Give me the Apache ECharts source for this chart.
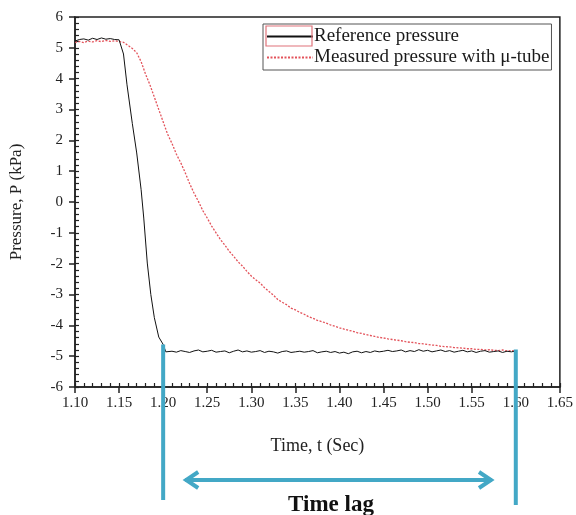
<!DOCTYPE html>
<html>
<head>
<meta charset="utf-8">
<script src="https://cdn.jsdelivr.net/npm/echarts@6/dist/echarts.min.js"></script>
<style>
    html, body { margin: 0; padding: 0; background: #fff; }
    #chart { width: 576px; height: 515px; }
</style>
</head>
<body>
<div id="chart"></div>
<script>
    // reference pressure (black line) - time in sec, pressure in kPa
    var refTime = [
        1.100, 1.105, 1.110, 1.115, 1.120, 1.125, 1.130, 1.135, 1.140, 1.145, 1.150,
        1.155, 1.159, 1.165, 1.170, 1.175, 1.178, 1.182, 1.186, 1.190, 1.195, 1.200, 1.203,
        1.205, 1.210, 1.215, 1.220, 1.225, 1.230, 1.235, 1.240, 1.245, 1.250,
        1.255, 1.260, 1.265, 1.270, 1.275, 1.280, 1.285, 1.290, 1.295, 1.300,
        1.305, 1.310, 1.315, 1.320, 1.325, 1.330, 1.335, 1.340, 1.345, 1.350,
        1.355, 1.360, 1.365, 1.370, 1.375, 1.380, 1.385, 1.390, 1.395, 1.400,
        1.405, 1.410, 1.415, 1.420, 1.425, 1.430, 1.435, 1.440, 1.445, 1.450,
        1.455, 1.460, 1.465, 1.470, 1.475, 1.480, 1.485, 1.490, 1.495, 1.500,
        1.505, 1.510, 1.515, 1.520, 1.525, 1.530, 1.535, 1.540, 1.545, 1.550,
        1.555, 1.560, 1.565, 1.570, 1.575, 1.580, 1.585, 1.590, 1.595, 1.600
    ];
    var refPressure = [
        5.22, 5.27, 5.29, 5.25, 5.31, 5.27, 5.32, 5.28, 5.30, 5.27, 5.26,
        4.80, 3.80, 2.55, 1.59, 0.40, -0.52, -1.98, -3.00, -3.75, -4.38, -4.62, -4.86,
        -4.86, -4.84, -4.87, -4.82, -4.85, -4.88, -4.83, -4.80, -4.86, -4.84,
        -4.81, -4.87, -4.85, -4.83, -4.89, -4.84, -4.80, -4.86, -4.83, -4.87,
        -4.85, -4.82, -4.88, -4.84, -4.86, -4.90, -4.85, -4.83, -4.88, -4.86,
        -4.84, -4.87, -4.85, -4.82, -4.89, -4.86, -4.84, -4.88, -4.85, -4.90,
        -4.87, -4.92, -4.86, -4.84, -4.89, -4.85, -4.88, -4.83, -4.86, -4.84,
        -4.81, -4.85, -4.83, -4.80, -4.86, -4.82, -4.85, -4.79, -4.84, -4.81,
        -4.86, -4.83, -4.80, -4.85, -4.82, -4.87, -4.84, -4.81, -4.86, -4.83,
        -4.88, -4.84, -4.82, -4.87, -4.85, -4.83, -4.88, -4.84, -4.86, -4.83
    ];

    // measured pressure with micro tube (red dotted)
    var measTime = [
        1.100, 1.105, 1.110, 1.115, 1.120, 1.125, 1.130, 1.135, 1.140, 1.145,
        1.150, 1.155, 1.160, 1.165, 1.170, 1.175, 1.180, 1.185, 1.190, 1.195,
        1.200, 1.205, 1.210, 1.215, 1.220, 1.225, 1.230, 1.235, 1.240, 1.245,
        1.250, 1.255, 1.260, 1.265, 1.270, 1.275, 1.280, 1.285, 1.290, 1.295,
        1.300, 1.305, 1.310, 1.315, 1.320, 1.325, 1.330, 1.335, 1.340, 1.345,
        1.350, 1.355, 1.360, 1.365, 1.370, 1.375, 1.380, 1.385, 1.390, 1.395,
        1.400, 1.405, 1.410, 1.415, 1.420, 1.425, 1.430, 1.435, 1.440, 1.445,
        1.450, 1.455, 1.460, 1.465, 1.470, 1.475, 1.480, 1.485, 1.490, 1.495,
        1.500, 1.505, 1.510, 1.515, 1.520, 1.525, 1.530, 1.535, 1.540, 1.545,
        1.550, 1.555, 1.560, 1.565, 1.570, 1.575, 1.580, 1.585, 1.590, 1.595,
        1.600
    ];
    var measPressure = [
        5.18, 5.21, 5.17, 5.22, 5.19, 5.23, 5.20, 5.24, 5.21, 5.23,
        5.20, 5.18, 5.08, 4.98, 4.84, 4.55, 4.15, 3.80, 3.40, 3.00,
        2.60, 2.20, 1.90, 1.55, 1.27, 0.95, 0.60, 0.29, 0.02, -0.28,
        -0.52, -0.78, -1.00, -1.22, -1.40, -1.60, -1.76, -1.94, -2.08, -2.25,
        -2.40, -2.52, -2.63, -2.78, -2.90, -3.02, -3.16, -3.25, -3.33, -3.44,
        -3.50, -3.58, -3.64, -3.72, -3.77, -3.84, -3.88, -3.93, -3.99, -4.03,
        -4.08, -4.12, -4.16, -4.19, -4.24, -4.26, -4.30, -4.33, -4.36, -4.39,
        -4.41, -4.44, -4.46, -4.48, -4.50, -4.53, -4.55, -4.56, -4.59, -4.60,
        -4.62, -4.64, -4.65, -4.68, -4.69, -4.70, -4.72, -4.73, -4.74, -4.76,
        -4.76, -4.78, -4.78, -4.80, -4.79, -4.81, -4.82, -4.80, -4.83, -4.82,
        -4.84
    ];

    var seriesNames = ['Reference pressure', 'Measured pressure with μ-tube'];
    // time lag markers (sec) and the pressure where each vertical line starts
    var lagStart = [1.20, -4.62];
    var lagEnd = [1.60, -4.78];
    var arrowFrom = 1.225, arrowTo = 1.573;

    function pairs(xs, ys) {
        return xs.map(function (x, i) { return [x, ys[i]]; });
    }

    var serif = 'Liberation Serif';
    var cyan = '#43a8c6';

    var myChart = echarts.init(document.getElementById('chart'));
    var option = {
        animation: false,
        textStyle: { fontFamily: serif },
        grid: {
            left: 70, right: 14, top: 17, bottom: 128,
            show: true,
            borderColor: '#222',
            borderWidth: 1.5
        },
        legend: {
            data: seriesNames,
            orient: 'vertical',
            left: 263,
            top: 24,
            padding: [3, 2, 3, 3],
            itemGap: 2,
            itemWidth: 46,
            itemHeight: 22,
            // only the line part of the legend sample is kept
            itemStyle: { opacity: 0 },
            borderColor: '#555',
            borderWidth: 1,
            textStyle: { fontFamily: serif, fontSize: 19, color: '#1a1a1a', padding: [0, 0, 0, -4] }
        },
        xAxis: [{
            type: 'value',
            min: 1.10,
            max: 1.65,
            interval: 0.05,
            name: 'Time, t (Sec)',
            nameLocation: 'middle',
            nameGap: 50,
            nameTextStyle: { fontFamily: serif, fontSize: 18, color: '#222' },
            axisLine: { onZero: false, lineStyle: { color: '#222', width: 1.5 } },
            axisTick: { show: true, length: 6, lineStyle: { color: '#222', width: 1.5 } },
            axisLabel: {
                fontFamily: serif, fontSize: 15, color: '#222', margin: 9,
                formatter: function (v) { return v.toFixed(2); }
            },
            splitLine: { show: false }
        }, {
            // minor ticks pointing into the plot
            type: 'value',
            min: 1.10,
            max: 1.65,
            interval: 0.01,
            position: 'bottom',
            axisLine: { show: false, onZero: false },
            axisTick: { show: true, inside: true, length: 4, lineStyle: { color: '#222', width: 1.2 } },
            axisLabel: { show: false },
            splitLine: { show: false }
        }],
        yAxis: [{
            type: 'value',
            min: -6,
            max: 6,
            interval: 1,
            name: 'Pressure, P (kPa)',
            nameLocation: 'middle',
            nameGap: 50,
            nameTextStyle: { fontFamily: serif, fontSize: 17, color: '#222' },
            axisLine: { show: true, onZero: false, lineStyle: { color: '#222', width: 1.5 } },
            axisTick: { show: true, length: 6, lineStyle: { color: '#222', width: 1.5 } },
            axisLabel: { fontFamily: serif, fontSize: 15, color: '#222', margin: 12 },
            splitLine: { show: false }
        }, {
            type: 'value',
            min: -6,
            max: 6,
            interval: 0.2,
            position: 'left',
            axisLine: { show: false, onZero: false },
            axisTick: { show: true, inside: true, length: 4, lineStyle: { color: '#222', width: 1.2 } },
            axisLabel: { show: false },
            splitLine: { show: false }
        }],
        series: [{
            name: seriesNames[0],
            type: 'line',
            xAxisIndex: 0,
            yAxisIndex: 0,
            symbol: 'none',
            data: pairs(refTime, refPressure),
            lineStyle: { color: '#111', width: 1 },
            itemStyle: { color: '#111' },
            z: 3
        }, {
            name: seriesNames[1],
            type: 'line',
            xAxisIndex: 0,
            yAxisIndex: 0,
            symbol: 'none',
            data: pairs(measTime, measPressure),
            lineStyle: { color: '#e3525a', width: 1.3, type: [2, 1.5] },
            itemStyle: { color: '#e3525a' },
            z: 2
        }]
    };
    myChart.setOption(option);

    // time lag annotation, placed through the axes
    var pS = myChart.convertToPixel({ gridIndex: 0 }, lagStart);
    var pE = myChart.convertToPixel({ gridIndex: 0 }, lagEnd);
    var aL = myChart.convertToPixel({ xAxisIndex: 0 }, arrowFrom);
    var aR = myChart.convertToPixel({ xAxisIndex: 0 }, arrowTo);
    var arrowY = 480;
    var lineStyle = { stroke: cyan, lineWidth: 4 };
    myChart.setOption({
        graphic: [
            // red frame of the legend icon
            { type: 'rect', shape: { x: 266, y: 26, width: 46, height: 20 }, style: { fill: 'none', stroke: '#e0737a', lineWidth: 1.2 }, z: 200 },
            { type: 'line', shape: { x1: pS[0], y1: pS[1], x2: pS[0], y2: 500 }, style: lineStyle, z: 100 },
            { type: 'line', shape: { x1: pE[0], y1: pE[1], x2: pE[0], y2: 505 }, style: lineStyle, z: 100 },
            { type: 'line', shape: { x1: aL, y1: arrowY, x2: aR, y2: arrowY }, style: lineStyle, z: 100 },
            { type: 'polyline', shape: { points: [[aL + 13, arrowY - 8], [aL + 1, arrowY], [aL + 13, arrowY + 8]] }, style: { stroke: cyan, lineWidth: 4, fill: 'none' }, z: 100 },
            { type: 'polyline', shape: { points: [[aR - 13, arrowY - 8], [aR - 1, arrowY], [aR - 13, arrowY + 8]] }, style: { stroke: cyan, lineWidth: 4, fill: 'none' }, z: 100 },
            {
                type: 'text', x: 331, y: 505,
                style: { text: 'Time lag', font: 'bold 23px "Liberation Serif"', fill: '#111', align: 'center', verticalAlign: 'middle' },
                z: 100
            }
        ]
    });
</script>
</body>
</html>
